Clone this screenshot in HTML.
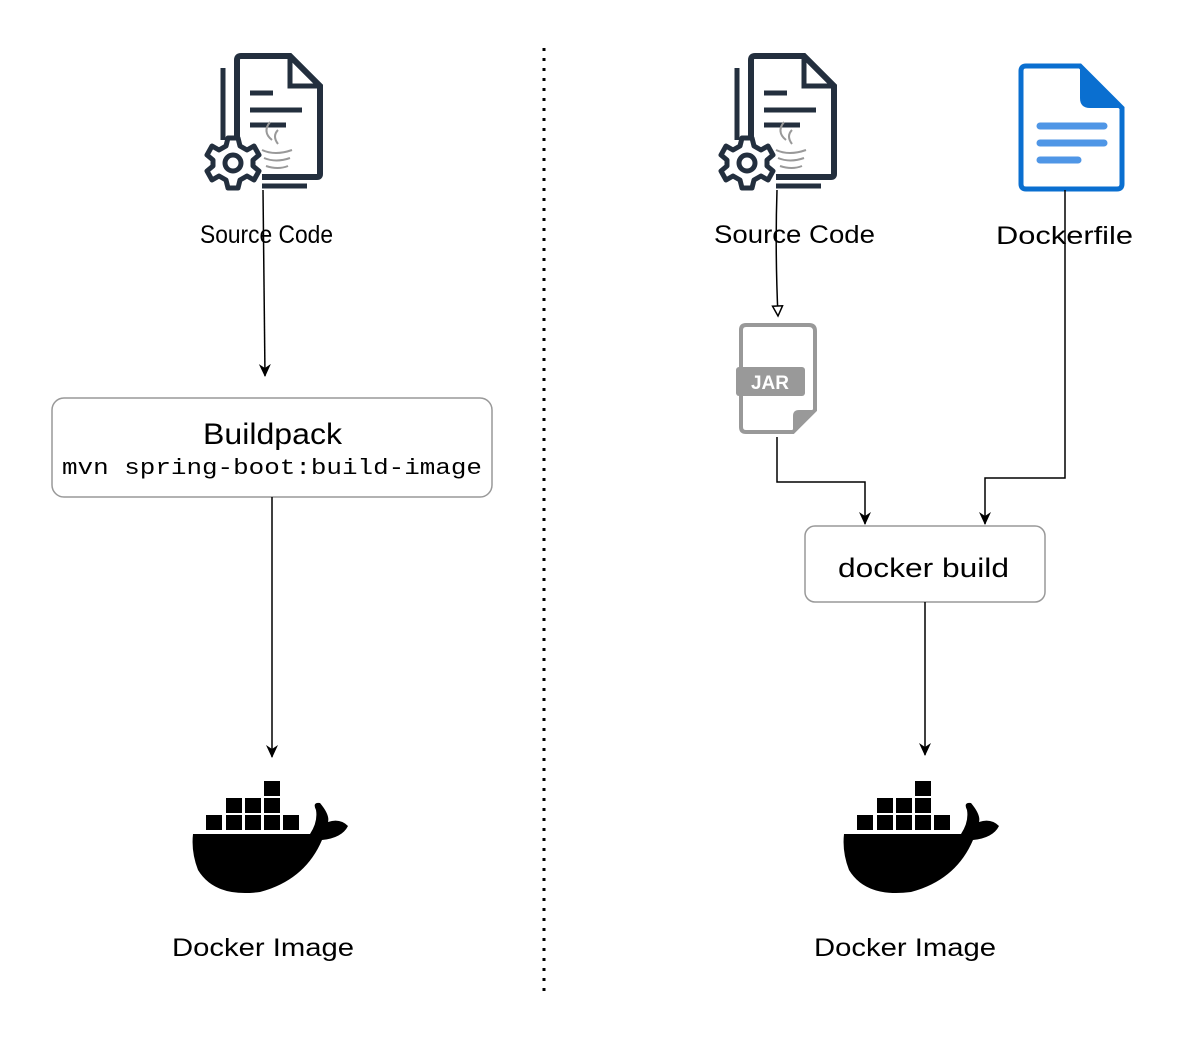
<!DOCTYPE html>
<html><head><meta charset="utf-8"><style>html,body{margin:0;padding:0;background:#fff}svg{display:block}</style></head><body>
<svg width="1192" height="1054" viewBox="0 0 1192 1054" xmlns="http://www.w3.org/2000/svg">
<defs>
<marker id="a" markerWidth="14" markerHeight="14" refX="12" refY="6" orient="auto" markerUnits="userSpaceOnUse"><path d="M0,0 L13,6 L0,12 L4,6 Z" fill="#000"/></marker>
<marker id="o" markerWidth="14" markerHeight="14" refX="11" refY="6" orient="auto" markerUnits="userSpaceOnUse"><path d="M1,1 L11,6 L1,11 Z" fill="#fff" stroke="#000" stroke-width="1.5"/></marker>
<g id="src">
<path d="M237,60 Q237,56 241,56 L290,56 L320,86 L320,174 Q320,177 317,177 L262,177" fill="none" stroke="#232f3e" stroke-width="6"/>
<path d="M237,60 L237,140" fill="none" stroke="#232f3e" stroke-width="6"/>
<path d="M290,56 L290,86 L320,86" fill="none" stroke="#232f3e" stroke-width="5"/>
<path d="M223,68 L223,140 M262,186 L307,186" fill="none" stroke="#232f3e" stroke-width="5"/>
<path d="M250,93 H273 M250,110 H302 M250,125 H286" stroke="#232f3e" stroke-width="5"/>
<g fill="none" stroke="#999" stroke-width="2"><path d="M270,122 Q262,132 272,140 M278,130 Q272,136 278,144"/><path d="M262,150 Q275,156 292,150 M264,158 Q276,163 290,158 M266,166 Q278,170 288,166"/></g>
<g transform="translate(233,163)"><path d="M-5,-25 L5,-25 L7,-17 L14,-13 L21,-17 L26,-8 L20,-3 L20,3 L26,8 L21,17 L14,13 L7,17 L5,25 L-5,25 L-7,17 L-14,13 L-21,17 L-26,8 L-20,3 L-20,-3 L-26,-8 L-21,-17 L-14,-13 L-7,-17 Z" fill="#fff" stroke="#232f3e" stroke-width="5" stroke-linejoin="round"/><circle r="8" fill="none" stroke="#232f3e" stroke-width="5"/></g>
</g>
<g id="whale" fill="#000">
<rect x="264" y="781" width="16" height="15"/>
<rect x="226" y="798" width="16" height="15"/><rect x="245" y="798" width="16" height="15"/><rect x="264" y="798" width="16" height="15"/>
<rect x="206" y="815" width="16" height="15"/><rect x="226" y="815" width="16" height="15"/><rect x="245" y="815" width="16" height="15"/><rect x="264" y="815" width="16" height="15"/><rect x="283" y="815" width="16" height="15"/>
<path d="M193,834 L310,834 Q318,822 316,810 Q312,802 320,803 Q330,815 328,822 Q340,818 348,826 Q342,838 322,840 Q305,880 260,892 Q215,898 198,870 Q191,852 193,834 Z"/>
</g>
</defs>
<line x1="544" y1="48" x2="544" y2="998" stroke="#000" stroke-width="3" stroke-dasharray="3,7"/>
<use href="#src"/>
<use href="#src" transform="translate(514,0)"/>
<use href="#whale"/>
<use href="#whale" transform="translate(651,0)"/>
<path d="M1026,66 L1080,66 L1122,108 L1122,184 Q1122,189 1117,189 L1026,189 Q1021,189 1021,184 L1021,71 Q1021,66 1026,66 Z" fill="#fff" stroke="#0a6fd0" stroke-width="5"/>
<path d="M1080,66 L1122,108 L1090,108 Q1080,108 1080,98 Z" fill="#0a6fd0"/>
<path d="M1040,126 H1104 M1040,143 H1104 M1040,160 H1078" stroke="#4f96e6" stroke-width="7" stroke-linecap="round"/>
<path d="M746,325 L809,325 Q815,325 815,331 L815,410 L793,432 L746,432 Q741,432 741,427 L741,330 Q741,325 746,325 Z" fill="#fff" stroke="#999" stroke-width="4"/>
<path d="M815,410 L793,432 L793,416 Q793,410 799,410 Z" fill="#999"/>
<rect x="736" y="367" width="69" height="29" rx="3" fill="#999"/>
<text x="770" y="389" font-family="Liberation Sans,sans-serif" font-weight="bold" font-size="19" fill="#fff" text-anchor="middle">JAR</text>
<rect x="52" y="398" width="440" height="99" rx="12" fill="#fff" stroke="#999" stroke-width="1.5"/>
<rect x="805" y="526" width="240" height="76" rx="10" fill="#fff" stroke="#999" stroke-width="1.5"/>
<g font-family="Liberation Sans,sans-serif" fill="#000">
<text x="200" y="243" font-size="25" textLength="133" lengthAdjust="spacingAndGlyphs">Source Code</text>
<text x="714" y="243" font-size="25" textLength="161" lengthAdjust="spacingAndGlyphs">Source Code</text>
<text x="996" y="244" font-size="25" textLength="137" lengthAdjust="spacingAndGlyphs">Dockerfile</text>
<text x="203" y="444" font-size="30" textLength="139" lengthAdjust="spacingAndGlyphs">Buildpack</text>
<text x="838" y="577" font-size="27" textLength="171" lengthAdjust="spacingAndGlyphs">docker build</text>
<text x="172" y="956" font-size="25" textLength="182" lengthAdjust="spacingAndGlyphs">Docker Image</text>
<text x="814" y="956" font-size="25" textLength="182" lengthAdjust="spacingAndGlyphs">Docker Image</text>
</g>
<text x="62" y="474" font-family="Liberation Mono,monospace" font-size="22" textLength="420" lengthAdjust="spacingAndGlyphs">mvn spring-boot:build-image</text>
<g fill="none" stroke="#000" stroke-width="1.5">
<path d="M263,190 L265,376" marker-end="url(#a)"/>
<path d="M272,497 L272,757" marker-end="url(#a)"/>
<path d="M777,190 Q775,250 778,316" marker-end="url(#o)"/>
<path d="M777,437 L777,482 L865,482 L865,524" marker-end="url(#a)"/>
<path d="M1065,190 L1065,478 L985,478 L985,524" marker-end="url(#a)"/>
<path d="M925,602 L925,755" marker-end="url(#a)"/>
</g>
</svg>
</body></html>
